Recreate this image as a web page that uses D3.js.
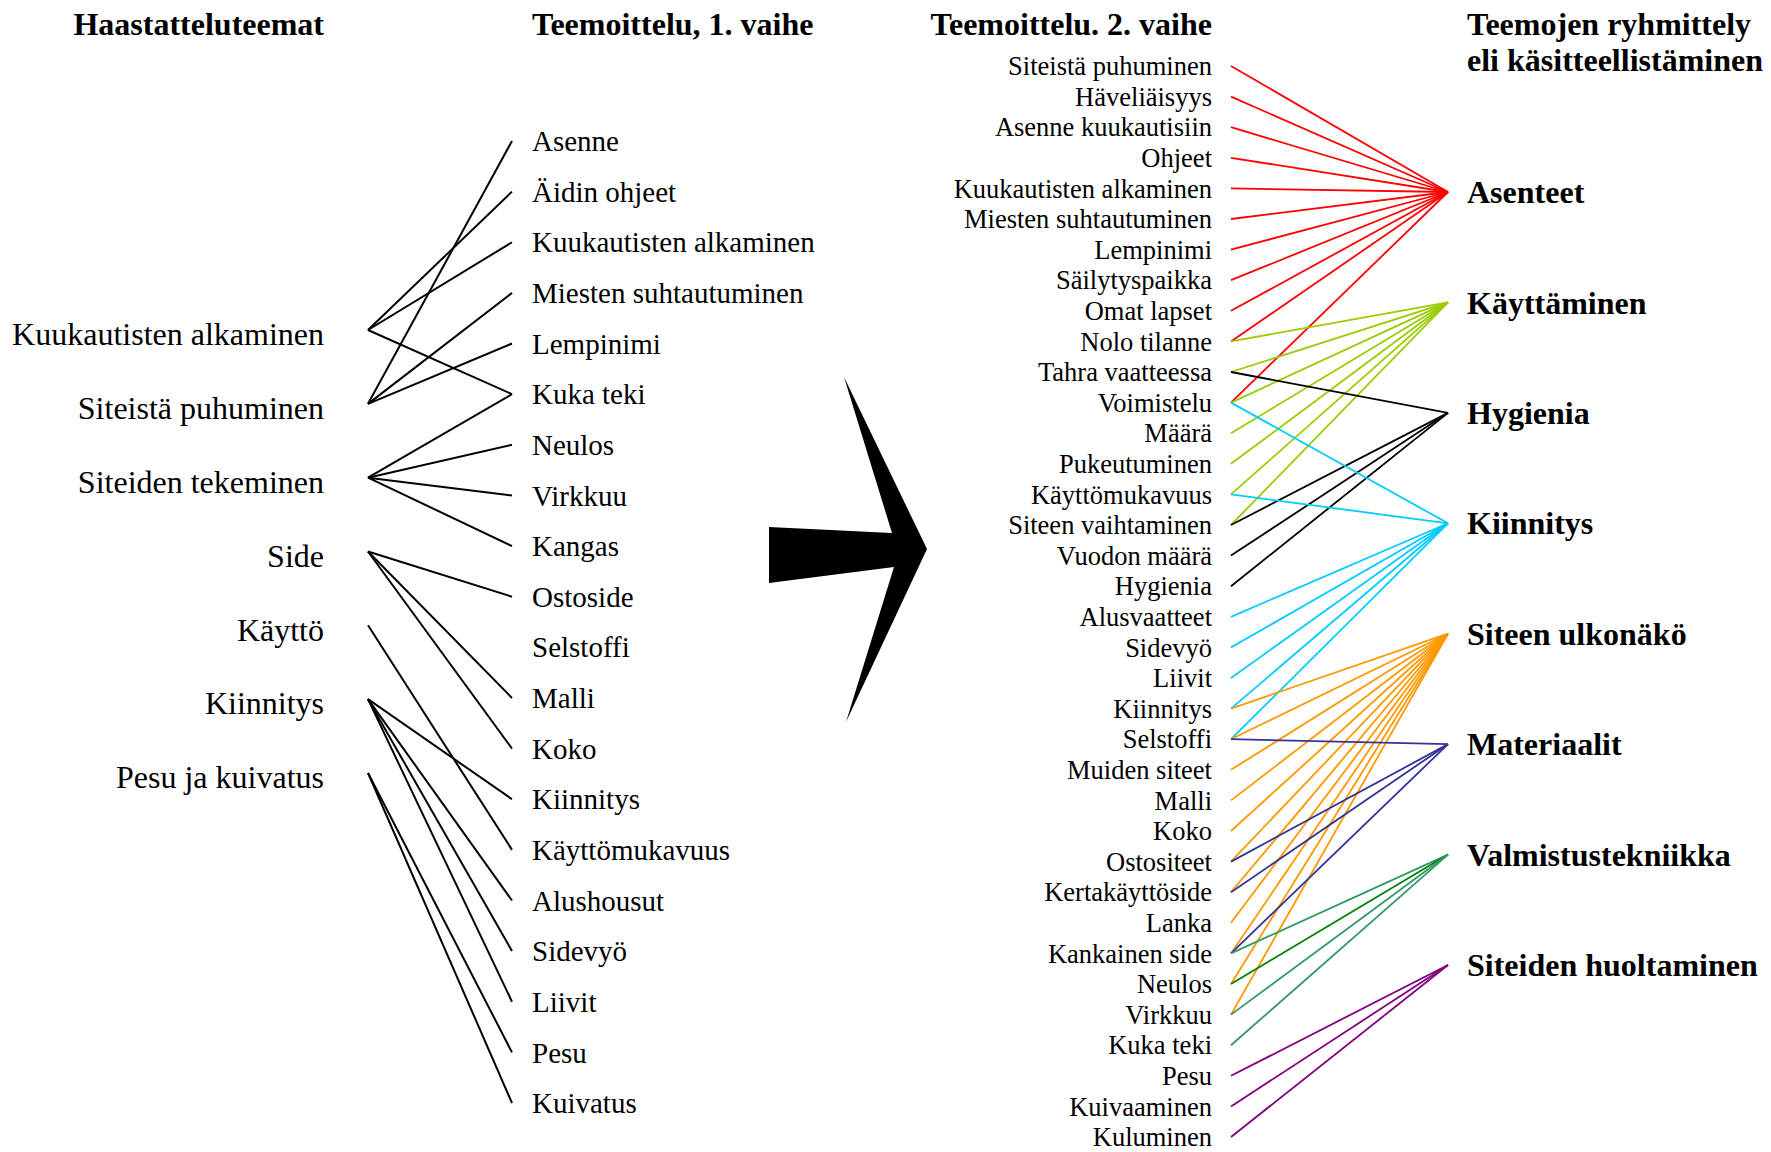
<!DOCTYPE html>
<html lang="fi">
<head>
<meta charset="UTF-8">
<title>Teemoittelu</title>
<script src="https://d3js.org/d3.v7.min.js"></script>
<style>
  body { margin: 0; background: #fff; }
  text { font-family: "Liberation Serif", "Times New Roman", serif; fill: #000; }
  .head { font-weight: bold; font-size: 32px; }
  .group { font-weight: bold; font-size: 32px; }
</style>
</head>
<body>
<svg width="1771" height="1152"></svg>
<script>
// haastatteluteemat (vasen sarake)
const leftThemes = ["Kuukautisten alkaminen", "Siteistä puhuminen", "Siteiden tekeminen",
  "Side", "Käyttö", "Kiinnitys", "Pesu ja kuivatus"];

// teemoittelu, 1. vaihe
const phase1Items = ["Asenne", "Äidin ohjeet", "Kuukautisten alkaminen", "Miesten suhtautuminen",
  "Lempinimi", "Kuka teki", "Neulos", "Virkkuu", "Kangas", "Ostoside", "Selstoffi", "Malli",
  "Koko", "Kiinnitys", "Käyttömukavuus", "Alushousut", "Sidevyö", "Liivit", "Pesu", "Kuivatus"];

const phase1Links = [
  ["Kuukautisten alkaminen", "Äidin ohjeet"],
  ["Kuukautisten alkaminen", "Kuukautisten alkaminen"],
  ["Kuukautisten alkaminen", "Kuka teki"],
  ["Siteistä puhuminen", "Asenne"],
  ["Siteistä puhuminen", "Miesten suhtautuminen"],
  ["Siteistä puhuminen", "Lempinimi"],
  ["Siteiden tekeminen", "Kuka teki"],
  ["Siteiden tekeminen", "Neulos"],
  ["Siteiden tekeminen", "Virkkuu"],
  ["Siteiden tekeminen", "Kangas"],
  ["Side", "Ostoside"],
  ["Side", "Malli"],
  ["Side", "Koko"],
  ["Käyttö", "Käyttömukavuus"],
  ["Kiinnitys", "Kiinnitys"],
  ["Kiinnitys", "Alushousut"],
  ["Kiinnitys", "Sidevyö"],
  ["Kiinnitys", "Liivit"],
  ["Pesu ja kuivatus", "Pesu"],
  ["Pesu ja kuivatus", "Kuivatus"]
];

// teemoittelu, 2. vaihe
const phase2Items = ["Siteistä puhuminen", "Häveliäisyys", "Asenne kuukautisiin", "Ohjeet",
  "Kuukautisten alkaminen", "Miesten suhtautuminen", "Lempinimi", "Säilytyspaikka", "Omat lapset",
  "Nolo tilanne", "Tahra vaatteessa", "Voimistelu", "Määrä", "Pukeutuminen", "Käyttömukavuus",
  "Siteen vaihtaminen", "Vuodon määrä", "Hygienia", "Alusvaatteet", "Sidevyö", "Liivit",
  "Kiinnitys", "Selstoffi", "Muiden siteet", "Malli", "Koko", "Ostositeet", "Kertakäyttöside",
  "Lanka", "Kankainen side", "Neulos", "Virkkuu", "Kuka teki", "Pesu", "Kuivaaminen", "Kuluminen"];

// teemojen ryhmittely
const groups = ["Asenteet", "Käyttäminen", "Hygienia", "Kiinnitys", "Siteen ulkonäkö",
  "Materiaalit", "Valmistustekniikka", "Siteiden huoltaminen"];

const phase2Links = [
  ["Siteistä puhuminen", "Asenteet"],
  ["Häveliäisyys", "Asenteet"],
  ["Asenne kuukautisiin", "Asenteet"],
  ["Ohjeet", "Asenteet"],
  ["Kuukautisten alkaminen", "Asenteet"],
  ["Miesten suhtautuminen", "Asenteet"],
  ["Lempinimi", "Asenteet"],
  ["Säilytyspaikka", "Asenteet"],
  ["Omat lapset", "Asenteet"],
  ["Nolo tilanne", "Asenteet"],
  ["Voimistelu", "Asenteet"],
  ["Nolo tilanne", "Käyttäminen"],
  ["Tahra vaatteessa", "Käyttäminen"],
  ["Voimistelu", "Käyttäminen"],
  ["Määrä", "Käyttäminen"],
  ["Pukeutuminen", "Käyttäminen"],
  ["Käyttömukavuus", "Käyttäminen"],
  ["Siteen vaihtaminen", "Käyttäminen"],
  ["Tahra vaatteessa", "Hygienia"],
  ["Siteen vaihtaminen", "Hygienia"],
  ["Vuodon määrä", "Hygienia"],
  ["Hygienia", "Hygienia"],
  ["Voimistelu", "Kiinnitys"],
  ["Käyttömukavuus", "Kiinnitys"],
  ["Alusvaatteet", "Kiinnitys"],
  ["Sidevyö", "Kiinnitys"],
  ["Liivit", "Kiinnitys"],
  ["Kiinnitys", "Kiinnitys"],
  ["Selstoffi", "Kiinnitys"],
  ["Kiinnitys", "Siteen ulkonäkö"],
  ["Selstoffi", "Siteen ulkonäkö"],
  ["Muiden siteet", "Siteen ulkonäkö"],
  ["Malli", "Siteen ulkonäkö"],
  ["Koko", "Siteen ulkonäkö"],
  ["Ostositeet", "Siteen ulkonäkö"],
  ["Kertakäyttöside", "Siteen ulkonäkö"],
  ["Lanka", "Siteen ulkonäkö"],
  ["Kankainen side", "Siteen ulkonäkö"],
  ["Neulos", "Siteen ulkonäkö"],
  ["Virkkuu", "Siteen ulkonäkö"],
  ["Selstoffi", "Materiaalit"],
  ["Ostositeet", "Materiaalit"],
  ["Kertakäyttöside", "Materiaalit"],
  ["Kankainen side", "Materiaalit"],
  ["Kankainen side", "Valmistustekniikka"],
  ["Neulos", "Valmistustekniikka"],
  ["Virkkuu", "Valmistustekniikka"],
  ["Kuka teki", "Valmistustekniikka"],
  ["Pesu", "Siteiden huoltaminen"],
  ["Kuivaaminen", "Siteiden huoltaminen"],
  ["Kuluminen", "Siteiden huoltaminen"]
];

const groupColor = d3.scaleOrdinal()
  .domain(groups)
  .range(["#ff0000", "#99cc00", "#000000", "#00ccff", "#ff9900", "#333399", "#339966", "#800080"]);

const svg = d3.select("svg");

// pystyskaalat joka sarakkeelle
const yLeft = d3.scalePoint().domain(leftThemes).range([334, 777]);
const yP1 = d3.scalePoint().domain(phase1Items).range([141, 1103]);
const yP2 = d3.scalePoint().domain(phase2Items).range([66, 1137]);
const yGroup = d3.scalePoint().domain(groups).range([192, 965]);

// x-paikat
const xLeftText = 324, xLeftNode = 368, xP1End = 512, xP1Text = 532;
const xP2Text = 1212, xP2Start = 1231, xGroupNode = 1448, xGroupText = 1467;

// otsikot
svg.append("text").attr("class", "head").attr("x", xLeftText).attr("y", 35)
  .attr("text-anchor", "end").text("Haastatteluteemat");
svg.append("text").attr("class", "head").attr("x", xP1Text).attr("y", 35)
  .text("Teemoittelu, 1. vaihe");
svg.append("text").attr("class", "head").attr("x", xP2Text).attr("y", 35)
  .attr("text-anchor", "end").text("Teemoittelu. 2. vaihe");
svg.append("text").attr("class", "head").attr("x", xGroupText).attr("y", 35)
  .text("Teemojen ryhmittely");
svg.append("text").attr("class", "head").attr("x", xGroupText).attr("y", 71)
  .text("eli käsitteellistäminen");

// 1. vaiheen viivat
svg.append("g").selectAll("line")
  .data(phase1Links)
  .join("line")
  .attr("x1", xLeftNode).attr("y1", d => yLeft(d[0]) - 4)
  .attr("x2", xP1End).attr("y2", d => yP1(d[1]))
  .attr("stroke", "#000").attr("stroke-width", 2);

svg.append("g").selectAll("text")
  .data(leftThemes)
  .join("text")
  .attr("x", xLeftText).attr("y", d => yLeft(d))
  .attr("dy", "0.35em").attr("text-anchor", "end")
  .style("font-size", "32px")
  .text(d => d);

svg.append("g").selectAll("text")
  .data(phase1Items)
  .join("text")
  .attr("x", xP1Text).attr("y", d => yP1(d))
  .attr("dy", "0.35em")
  .style("font-size", "29px")
  .text(d => d);

// nuoli
const arrow = d3.path();
arrow.moveTo(769, 527);
arrow.lineTo(892, 533);
arrow.lineTo(844, 377);
arrow.lineTo(927, 549);
arrow.lineTo(846, 722);
arrow.lineTo(894, 567);
arrow.lineTo(769, 583);
arrow.closePath();
svg.append("path").attr("d", arrow.toString()).attr("fill", "#000");

// 2. vaiheen viivat
svg.append("g").selectAll("line")
  .data(phase2Links)
  .join("line")
  .attr("x1", xP2Start).attr("y1", d => yP2(d[0]))
  .attr("x2", xGroupNode).attr("y2", d => yGroup(d[1]))
  .attr("stroke", d => (d[0] === "Neulos" && d[1] === "Valmistustekniikka") ? "#008000" : groupColor(d[1]))
  .attr("stroke-width", 1.8);

svg.append("g").selectAll("text")
  .data(phase2Items)
  .join("text")
  .attr("x", xP2Text).attr("y", d => yP2(d))
  .attr("dy", "0.35em").attr("text-anchor", "end")
  .style("font-size", "26.5px")
  .text(d => d);

svg.append("g").selectAll("text")
  .data(groups)
  .join("text")
  .attr("class", "group")
  .attr("x", xGroupText).attr("y", d => yGroup(d))
  .attr("dy", "0.35em")
  .text(d => d);
</script>
</body>
</html>
